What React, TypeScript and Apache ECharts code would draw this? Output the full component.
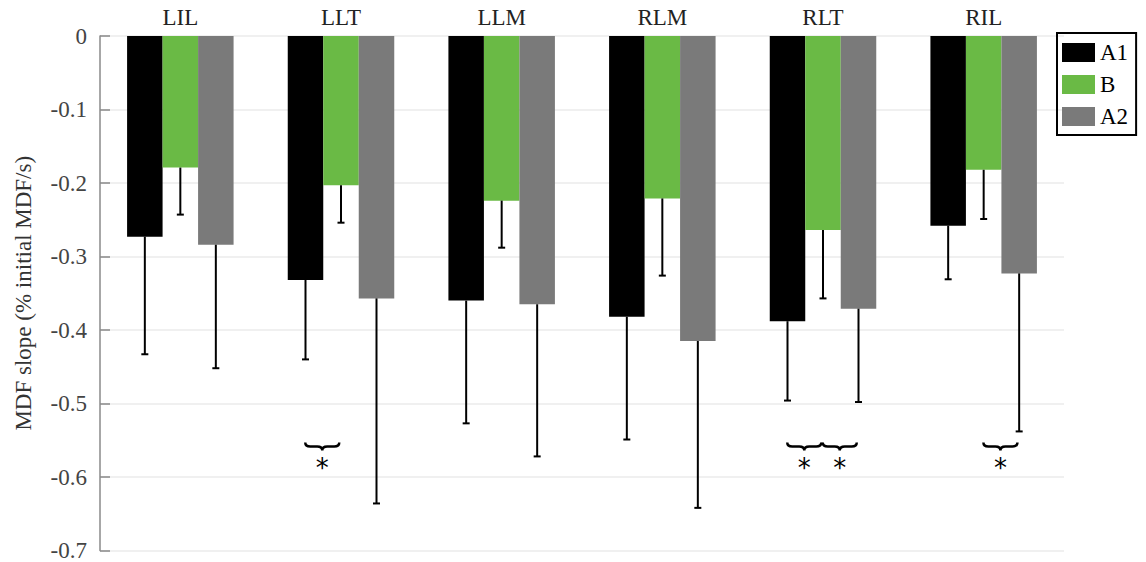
import React, { useEffect, useRef } from "react";
import * as echarts from "echarts";

const categories = ["LIL", "LLT", "LLM", "RLM", "RLT", "RIL"];
const seriesNames = ["A1", "B", "A2"];
const seriesColors = ["#000000", "#6aba45", "#7a7a7a"];
const a1Means = [-0.273, -0.332, -0.36, -0.382, -0.388, -0.258];
const a1ErrEnds = [-0.433, -0.44, -0.527, -0.549, -0.496, -0.331];
const bMeans = [-0.179, -0.203, -0.224, -0.221, -0.264, -0.182];
const bErrEnds = [-0.243, -0.254, -0.288, -0.326, -0.357, -0.249];
const a2Means = [-0.284, -0.357, -0.365, -0.415, -0.371, -0.323];
const a2ErrEnds = [-0.452, -0.636, -0.572, -0.642, -0.498, -0.538];
const yMin = -0.7;
const yMax = 0;
const yInterval = 0.1;
const yAxisName = "MDF slope (% initial MDF/s)";
// significance braces: category, from series, to series
const sigCategories = ["LLT", "RLT", "RLT", "RIL"];
const sigFrom = ["A1", "A1", "B", "B"];
const sigTo = ["B", "B", "A2", "A2"];
const braceLevel = -0.553;
const sigMark = "*";

const BAR_W = 35.5;
const SERIF = "Liberation Serif, Times New Roman, serif";

export default function App() {
  const ref = useRef<HTMLDivElement>(null);
  useEffect(() => {
    if (!ref.current) return;
    const chart = echarts.init(ref.current, undefined, { renderer: "svg" });
    const means = [a1Means, bMeans, a2Means];
    const errs = [a1ErrEnds, bErrEnds, a2ErrEnds];

    const barSeries = seriesNames.map((name, i) => ({
      name,
      type: "bar",
      data: means[i],
      barWidth: BAR_W,
      barGap: "0%",
      itemStyle: { color: seriesColors[i] },
      z: 2,
    }));

    const errSeries = seriesNames.map((name, i) => ({
      name: name + "_err",
      type: "custom",
      z: 3,
      data: categories.map((_, c) => [c, means[i][c], errs[i][c]]),
      encode: { x: 0, y: [1, 2] },
      renderItem: (params: any, api: any) => {
        const c = api.value(0);
        const p1 = api.coord([c, api.value(1)]);
        const p2 = api.coord([c, api.value(2)]);
        const x = p1[0] + (i - 1) * BAR_W;
        return {
          type: "group",
          children: [
            {
              type: "line",
              shape: { x1: x, y1: p1[1], x2: x, y2: p2[1] },
              style: { stroke: "#000", lineWidth: 2 },
            },
            {
              type: "line",
              shape: { x1: x - 3.5, y1: p2[1], x2: x + 3.5, y2: p2[1] },
              style: { stroke: "#000", lineWidth: 2 },
            },
          ],
        };
      },
    }));

    const braceSeries = {
      name: "sig",
      type: "custom",
      z: 4,
      data: sigCategories.map((cat, k) => [
        categories.indexOf(cat),
        braceLevel,
        seriesNames.indexOf(sigFrom[k]),
        seriesNames.indexOf(sigTo[k]),
      ]),
      encode: { x: 0, y: 1 },
      renderItem: (params: any, api: any) => {
        const c = api.value(0);
        const p = api.coord([c, api.value(1)]);
        const ca = p[0] + (api.value(2) - 1) * BAR_W;
        const cb = p[0] + (api.value(3) - 1) * BAR_W;
        const xm = (ca + cb) / 2 - 1;
        const xa = xm - 17;
        const xb = xm + 17;
        const y0 = p[1];
        const h = 8;
        const r = 5;
        const d =
          `M${xa},${y0} Q${xa},${y0 + h / 2} ${xa + r},${y0 + h / 2} ` +
          `L${xm - r},${y0 + h / 2} Q${xm},${y0 + h / 2} ${xm},${y0 + h} ` +
          `Q${xm},${y0 + h / 2} ${xm + r},${y0 + h / 2} ` +
          `L${xb - r},${y0 + h / 2} Q${xb},${y0 + h / 2} ${xb},${y0}`;
        return {
          type: "group",
          children: [
            {
              type: "path",
              shape: { pathData: d },
              style: { stroke: "#000", fill: "none", lineWidth: 2.5 },
            },
            {
              type: "text",
              x: xm,
              y: y0 + 13,
              style: {
                text: sigMark,
                fontSize: 26,
                fontFamily: "DejaVu Sans",
                fill: "#000",
                align: "center",
                verticalAlign: "top",
              },
            },
          ],
        };
      },
    };

    chart.setOption({
      animation: false,
      grid: { left: 100, right: 82, top: 36, bottom: 10, containLabel: false },
      legend: {
        data: seriesNames,
        orient: "vertical",
        left: 1057,
        top: 33,
        icon: "rect",
        itemWidth: 33,
        itemHeight: 19,
        itemGap: 9,
        padding: [8, 8, 7, 5],
        borderColor: "#000",
        borderWidth: 2,
        textStyle: { fontFamily: SERIF, fontSize: 23, color: "#000" },
      },
      xAxis: {
        type: "category",
        data: categories,
        position: "top",
        axisLine: { show: false },
        axisTick: { show: false },
        axisLabel: { fontFamily: SERIF, fontSize: 23, color: "#222", margin: 7 },
      },
      yAxis: {
        type: "value",
        min: yMin,
        max: yMax,
        interval: yInterval,
        name: yAxisName,
        nameLocation: "middle",
        nameGap: 65,
        nameRotate: 90,
        nameTextStyle: { fontFamily: SERIF, fontSize: 23, color: "#333" },
        axisLine: { show: true, lineStyle: { color: "#8a8a8a", width: 1.5 } },
        axisTick: { show: true, inside: true, length: 10, lineStyle: { color: "#8a8a8a", width: 1.5 } },
        axisLabel: {
          fontFamily: SERIF,
          fontSize: 23,
          color: "#444",
          margin: 13,
          formatter: (v: number) => (Math.abs(v) < 1e-9 ? "0" : v.toFixed(1)),
        },
        splitLine: { show: true, lineStyle: { color: "#ebebeb", width: 1.5 } },
      },
      series: [...barSeries, ...errSeries, braceSeries],
    });
    return () => chart.dispose();
  }, []);
  return (
    <div
      ref={ref}
      style={{ position: "fixed", left: 0, top: 0, width: 1146, height: 562, background: "#fff" }}
    />
  );
}
